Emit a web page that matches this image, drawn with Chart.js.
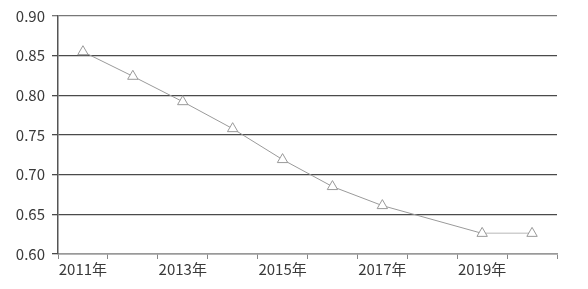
<!DOCTYPE html>
<html lang="zh">
<head>
    <meta charset="UTF-8">
    <title>Line chart</title>
    <script src="https://cdn.jsdelivr.net/npm/chart.js"></script>
    <style>
        body { margin: 0; background: #fff; }
        #wrap { width: 588px; height: 289px; position: relative; }
    </style>
</head>
<body>
    <div id="wrap"><canvas id="lineChart"></canvas></div>

    <script>
        // categories and values (2018 has no point)
        const years = ['2011年', '2012年', '2013年', '2014年', '2015年', '2016年', '2017年', '2018年', '2019年', '2020年'];
        const values = [0.855, 0.824, 0.792, 0.758, 0.719, 0.685, 0.661, null, 0.626, 0.626];
        const yTicks = [0.60, 0.65, 0.70, 0.75, 0.80, 0.85, 0.90];

        const font = { family: '"Noto Sans CJK SC", "Noto Sans", sans-serif', size: 15 };

        new Chart(document.getElementById('lineChart'), {
            type: 'line',
            data: {
                labels: years,
                datasets: [{
                    data: values,
                    spanGaps: true,
                    borderColor: '#9a9a9a',
                    borderWidth: 1,
                    tension: 0,
                    pointStyle: 'triangle',
                    pointRadius: 6,
                    pointBackgroundColor: '#fff',
                    pointBorderColor: '#999',
                    pointBorderWidth: 1,
                    segment: {
                        borderColor: ctx => ctx.p0DataIndex === 8 ? '#cfcfcf' : '#9a9a9a',
                        borderWidth: ctx => ctx.p0DataIndex === 8 ? 1.5 : 1
                    }
                }]
            },
            options: {
                responsive: true,
                maintainAspectRatio: false,
                animation: false,
                layout: { padding: { left: 0, right: 31, top: 14, bottom: 0 } },
                plugins: { legend: { display: false }, tooltip: { enabled: false } },
                scales: {
                    x: {
                        offset: true,
                        grid: {
                            offset: true,
                            drawOnChartArea: false,
                            drawTicks: true,
                            tickLength: 5,
                            color: '#888'
                        },
                        border: { color: '#999', width: 1.5 },
                        ticks: {
                            autoSkip: false,
                            maxRotation: 0,
                            color: '#3a3a3a',
                            font: font,
                            padding: 1,
                            callback: (v, i) => i % 2 === 0 ? years[i] : ''
                        },
                        afterFit: s => { s.height = 35; }
                    },
                    y: {
                        min: 0.60,
                        max: 0.90,
                        afterBuildTicks: s => { s.ticks = yTicks.map(v => ({ value: v })); },
                        grid: {
                            color: ctx => ctx.tick && ctx.tick.value === 0.9 ? '#777' : '#4a4a4a',
                            lineWidth: 1.3,
                            tickLength: 6
                        },
                        border: { color: '#555', width: 1.5 },
                        ticks: {
                            color: '#3a3a3a',
                            font: font,
                            padding: 7,
                            callback: v => v.toFixed(2)
                        },
                        afterFit: s => { s.width = 58; }
                    }
                }
            }
        });
    </script>
</body>
</html>
